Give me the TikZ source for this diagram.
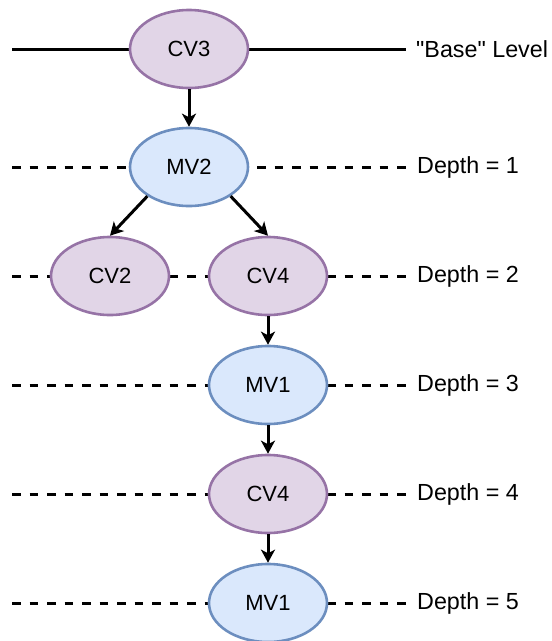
\documentclass[tikz,border=0pt]{standalone}
\usepackage{fontspec}
\setmainfont{Liberation Sans}[Ligatures=TeXOff]
\usetikzlibrary{shapes.geometric,arrows.meta}

\definecolor{cvfill}{HTML}{E1D5E7}
\definecolor{cvdraw}{HTML}{9673A6}
\definecolor{mvfill}{HTML}{DAE8FC}
\definecolor{mvdraw}{HTML}{6C8EBF}

\tikzset{
  varnode/.style={ellipse, minimum width=118pt, minimum height=78pt, inner sep=0pt,
    line width=2.6pt, font=\fontsize{22}{26}\selectfont},
  cvnode/.style={varnode, fill=cvfill, draw=cvdraw},
  mvnode/.style={varnode, fill=mvfill, draw=mvdraw},
  levellabel/.style={anchor=west, inner xsep=10pt, inner ysep=0pt,
    font=\fontsize{23.3}{28}\selectfont},
  baseline/.style={line width=3pt},
  depthline/.style={line width=3pt, dash pattern=on 8.5pt off 9pt},
  edge/.style={line width=3pt, -{Stealth[length=13pt,width=14pt,inset=3.5pt]}}
}

\begin{document}
\begin{tikzpicture}[x=1pt,y=-1pt]
\useasboundingbox (0,0) rectangle (552,641);

% level labels and the start of each level line
\node[levellabel] (base) at (406,49) {"Base" Level};
\node[levellabel] (d1) at (407,167) {Depth = 1};
\node[levellabel] (d2) at (407,276) {Depth = 2};
\node[levellabel] (d3) at (407,385) {Depth = 3};
\node[levellabel] (d4) at (407,494) {Depth = 4};
\node[levellabel] (d5) at (407,603) {Depth = 5};
\coordinate (s0) at (12,49);
\coordinate (s1) at (12,167);
\coordinate (s2) at (12,276);
\coordinate (s3) at (12,385);
\coordinate (s4) at (12,494);
\coordinate (s5) at (12,603);

% level lines, drawn first so the ellipses cover them
\draw[baseline] (s0) -- (base.west);
\draw[depthline] (s1) -- (d1.west);
\draw[depthline] (s2) -- (d2.west);
\draw[depthline] (s3) -- (d3.west);
\draw[depthline] (s4) -- (d4.west);
\draw[depthline] (s5) -- (d5.west);

% variables
\node[cvnode] (cv3) at (189,49) {CV3};
\node[mvnode] (mv2) at (189,167) {MV2};
\node[cvnode] (cv2) at (110,276) {CV2};
\node[cvnode] (cv4a) at (268,276) {CV4};
\node[mvnode] (mv1a) at (268,385) {MV1};
\node[cvnode] (cv4b) at (268,494) {CV4};
\node[mvnode] (mv1b) at (268,603) {MV1};

% dependencies
\draw[edge] (cv3) -- (mv2);
\draw[edge] (mv2.215) -- (cv2.north);
\draw[edge] (mv2.-35) -- (cv4a.north);
\draw[edge] (cv4a) -- (mv1a);
\draw[edge] (mv1a) -- (cv4b);
\draw[edge] (cv4b) -- (mv1b);
\end{tikzpicture}
\end{document}
